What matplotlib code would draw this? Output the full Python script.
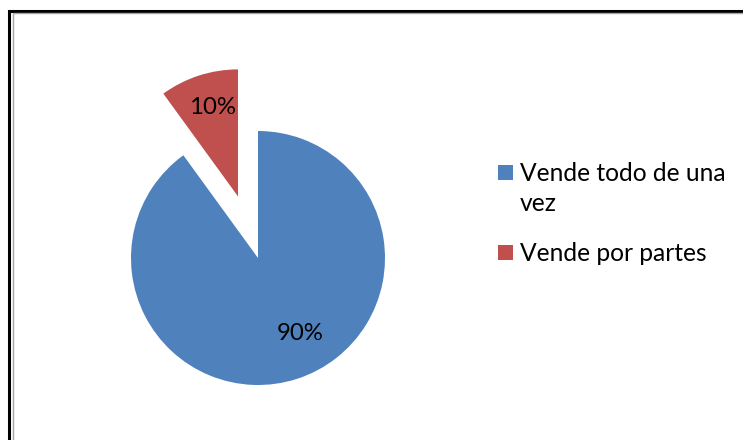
import numpy as np
import matplotlib
matplotlib.use("Agg")
import matplotlib.pyplot as plt
from matplotlib.patches import Rectangle

labels = ["Vende todo de una\nvez", "Vende por partes"]
values = [90, 10]
colors = ["#4F81BD", "#C0504D"]
explode = [0, 0.51]

plt.rcParams["font.family"] = ["Lato", "DejaVu Sans"]

fig = plt.figure(figsize=(7.43, 4.40), dpi=100)
W, H = 743, 440

# chart frame: black outer line plus thin grey inner line, running off the right/bottom
fig.patches.append(Rectangle((9 / W, -0.1), 1.2, (440 - 11) / H + 0.1, transform=fig.transFigure,
                             fill=False, edgecolor="black", linewidth=2.2))
fig.patches.append(Rectangle((12.5 / W, -0.1), 1.2, (440 - 13.5) / H + 0.1, transform=fig.transFigure,
                             fill=False, edgecolor="#a6a6a6", linewidth=1.0))

# pie axes: centre at (258, 258) px from top, radius 127 px
R = 127.0
cx, cy = 258.0, 440 - 258.0
x0, x1, y0, y1 = 100, 420, 20, 380
ax = fig.add_axes([x0 / W, y0 / H, (x1 - x0) / W, (y1 - y0) / H])
wedges, texts, autotexts = ax.pie(values, colors=colors, explode=explode, startangle=90,
                                  counterclock=False, autopct="%d%%", pctdistance=0.7,
                                  textprops={"fontsize": 17.3, "color": "black"})
ax.set_xlim((x0 - cx) / R, (x1 - cx) / R)
ax.set_ylim((y0 - cy) / R, (y1 - cy) / R)
ax.set_aspect("auto")
ax.axis("off")

# label positions similar to the reference
autotexts[0].set_position(((300 - cx) / R, (440 - 333 - cy) / R))
autotexts[1].set_position(((213 - cx) / R, (440 - 108 - cy) / R))

# legend drawn by hand so the swatch sits on the first line of a wrapped label
entry_tops = [165, 245]
for lab, col, top in zip(labels, colors, entry_tops):
    fig.patches.append(Rectangle((498 / W, 1 - (top + 15) / H), 15 / W, 15 / H,
                                 transform=fig.transFigure, facecolor=col, edgecolor="none"))
    for i, line in enumerate(lab.split("\n")):
        fig.text(520 / W, 1 - (top + 16 + 30 * i) / H, line, fontsize=17.7,
                 va="baseline", ha="left", color="black")

fig.savefig("out.png", dpi=100)
